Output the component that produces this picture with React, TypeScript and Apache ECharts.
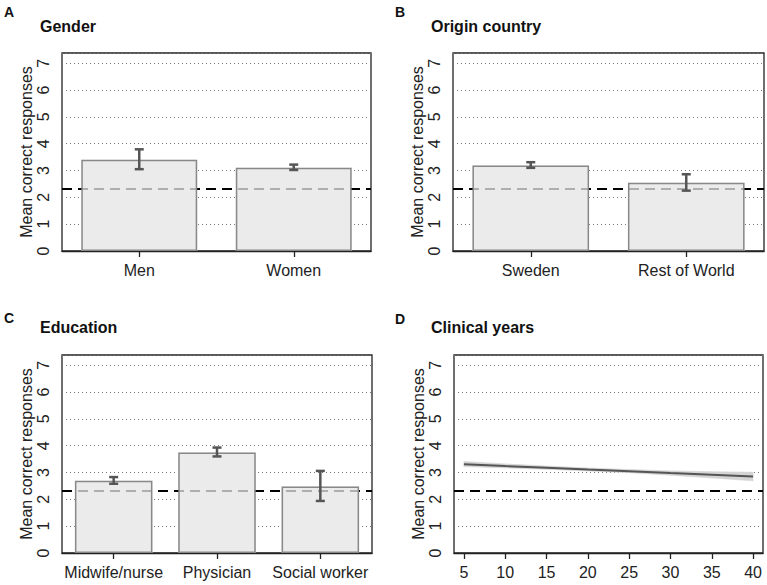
import React, { useEffect, useRef } from "react";
import * as echarts from "echarts";

const chanceLevel = 7 / 3;
const yTicks = [0, 1, 2, 3, 4, 5, 6, 7];

const genderCats = ["Men", "Women"];
const genderMeans = [3.4, 3.1];
const genderLow = [3.05, 3.02];
const genderHigh = [3.79, 3.22];

const originCats = ["Sweden", "Rest of World"];
const originMeans = [3.19, 2.54];
const originLow = [3.1, 2.25];
const originHigh = [3.31, 2.86];

const eduCats = ["Midwife/nurse", "Physician", "Social worker"];
const eduMeans = [2.69, 3.75, 2.48];
const eduLow = [2.58, 3.6, 1.94];
const eduHigh = [2.83, 3.93, 3.06];

const years = [5, 10, 15, 20, 25, 30, 35, 40];
const yearTicks = [5, 10, 15, 20, 25, 30, 35, 40];
const fitValues = [3.31, 3.24, 3.18, 3.11, 3.05, 2.98, 2.92, 2.85];
const ciLower = [3.22, 3.17, 3.12, 3.06, 2.99, 2.9, 2.8, 2.69];
const ciUpper = [3.41, 3.32, 3.24, 3.17, 3.11, 3.06, 3.03, 3.01];

const FONT = "'Liberation Sans', Arial, Helvetica, sans-serif";
const Y_MAX = 7.38;

const panelTitles = [
  { letter: "A", title: "Gender" },
  { letter: "B", title: "Origin country" },
  { letter: "C", title: "Education" },
  { letter: "D", title: "Clinical years" },
];

export default function App() {
  const ref = useRef<HTMLDivElement>(null);

  useEffect(() => {
    if (!ref.current) return;
    const chart = echarts.init(ref.current, null, { renderer: "svg" });

    const grids = [
      { left: 62, top: 53, width: 309, height: 198 },
      { left: 453, top: 53, width: 311, height: 198 },
      { left: 62, top: 355, width: 310, height: 198 },
      { left: 454, top: 355, width: 309, height: 198 },
    ].map((g) => ({
      ...g,
      show: true,
      borderColor: "#222",
      borderWidth: 1.3,
      backgroundColor: "transparent",
    }));

    const yAxes = grids.map((_, i) => ({
      type: "value",
      gridIndex: i,
      min: 0,
      max: Y_MAX,
      interval: 1,
      name: "Mean correct responses",
      nameLocation: "middle",
      nameRotate: 90,
      nameGap: 27,
      nameTextStyle: { fontFamily: FONT, fontSize: 16, color: "#222" },
      axisLine: { show: false },
      axisTick: { show: false },
      axisLabel: {
        customValues: yTicks,
        rotate: 90,
        margin: 11,
        fontFamily: FONT,
        fontSize: 16,
        color: "#222",
      },
      splitLine: {
        show: true,
        lineStyle: { color: "#777", type: [1, 3], width: 1 },
      },
    }));

    const catAxis = (i: number, cats: string[]) => ({
      type: "category",
      gridIndex: i,
      data: cats,
      axisLine: { show: true, lineStyle: { color: "#222", width: 1.3 } },
      axisTick: {
        show: true,
        alignWithLabel: true,
        length: 6,
        lineStyle: { color: "#222", width: 1.3 },
      },
      axisLabel: {
        margin: 11,
        fontFamily: FONT,
        fontSize: 16,
        color: "#222",
        interval: 0,
      },
      splitLine: { show: false },
    });

    const xAxes = [
      catAxis(0, genderCats),
      catAxis(1, originCats),
      catAxis(2, eduCats),
      {
        type: "value",
        gridIndex: 3,
        min: 3.8,
        max: 41.2,
        axisLine: { show: true, lineStyle: { color: "#222", width: 1.3 } },
        axisTick: {
          show: true,
          customValues: yearTicks,
          length: 6,
          lineStyle: { color: "#222", width: 1.3 },
        },
        axisLabel: {
          customValues: yearTicks,
          margin: 11,
          fontFamily: FONT,
          fontSize: 16,
          color: "#222",
        },
        splitLine: { show: false },
      },
    ];

    const chanceLine = (z: number) => ({
      symbol: "none",
      silent: true,
      z,
      label: { show: false },
      lineStyle: { color: "#000", type: [10, 6], width: 1.8 },
      data: [{ yAxis: chanceLevel }],
    });

    const barPanel = (i: number, cats: string[], means: number[], lo: number[], hi: number[]) => [
      {
        type: "bar",
        xAxisIndex: i,
        yAxisIndex: i,
        data: means,
        barWidth: "75%",
        barGap: "-100%",
        z: 2,
        itemStyle: { color: "#ebebeb", borderWidth: 0 },
        silent: true,
      },
      {
        type: "scatter",
        xAxisIndex: i,
        yAxisIndex: i,
        data: [],
        z: 3,
        markLine: chanceLine(3),
      },
      {
        type: "bar",
        xAxisIndex: i,
        yAxisIndex: i,
        data: means,
        barWidth: "75%",
        barGap: "-100%",
        z: 4,
        itemStyle: {
          color: "rgba(235,235,235,0.74)",
          borderColor: "#888",
          borderWidth: 1.5,
        },
        silent: true,
      },
      {
        type: "custom",
        xAxisIndex: i,
        yAxisIndex: i,
        z: 5,
        silent: true,
        data: cats.map((c, k) => [k, lo[k], hi[k]]),
        renderItem: (params: any, api: any) => {
          const x = api.value(0);
          const pLo = api.coord([x, api.value(1)]);
          const pHi = api.coord([x, api.value(2)]);
          const w = 4.5;
          const style = { stroke: "#555", lineWidth: 2.5 };
          return {
            type: "group",
            children: [
              { type: "line", shape: { x1: pLo[0], y1: pLo[1], x2: pHi[0], y2: pHi[1] }, style },
              { type: "line", shape: { x1: pLo[0] - w, y1: pLo[1], x2: pLo[0] + w, y2: pLo[1] }, style },
              { type: "line", shape: { x1: pHi[0] - w, y1: pHi[1], x2: pHi[0] + w, y2: pHi[1] }, style },
            ],
          };
        },
      },
    ];

    const series: any[] = [
      ...barPanel(0, genderCats, genderMeans, genderLow, genderHigh),
      ...barPanel(1, originCats, originMeans, originLow, originHigh),
      ...barPanel(2, eduCats, eduMeans, eduLow, eduHigh),
      {
        type: "custom",
        xAxisIndex: 3,
        yAxisIndex: 3,
        z: 2,
        silent: true,
        data: years.map((x, k) => [x, ciLower[k], ciUpper[k]]),
        renderItem: (params: any, api: any) => {
          const k = params.dataIndex;
          if (k >= years.length - 1) return { type: "group", children: [] };
          const a1 = api.coord([years[k], ciLower[k]]);
          const a2 = api.coord([years[k], ciUpper[k]]);
          const b1 = api.coord([years[k + 1], ciLower[k + 1]]);
          const b2 = api.coord([years[k + 1], ciUpper[k + 1]]);
          return {
            type: "polygon",
            shape: { points: [a1, a2, b2, b1] },
            style: { fill: "#d4d4d4", stroke: "#d4d4d4", lineWidth: 0.6 },
          };
        },
      },
      {
        type: "line",
        xAxisIndex: 3,
        yAxisIndex: 3,
        symbol: "none",
        silent: true,
        lineStyle: { color: "#555", width: 2 },
        data: years.map((x, k) => [x, fitValues[k]]),
        z: 4,
        markLine: chanceLine(4),
      },
    ];

    const titlePos = [
      { lx: 4, ly: 12, tx: 40, ty: 26 },
      { lx: 395, ly: 12, tx: 431, ty: 26 },
      { lx: 4, ly: 318, tx: 40, ty: 327 },
      { lx: 395, ly: 319, tx: 431, ty: 327 },
    ];

    const graphic: any[] = [];
    panelTitles.forEach((p, i) => {
      const pos = titlePos[i];
      graphic.push({
        type: "text",
        x: pos.lx,
        y: pos.ly,
        style: {
          text: p.letter,
          font: `bold 14px ${FONT}`,
          fill: "#111",
          textVerticalAlign: "middle",
        },
      });
      graphic.push({
        type: "text",
        x: pos.tx,
        y: pos.ty,
        style: {
          text: p.title,
          font: `bold 16px ${FONT}`,
          fill: "#111",
          textVerticalAlign: "middle",
        },
      });
    });

    chart.setOption({
      animation: false,
      backgroundColor: "#fff",
      textStyle: { fontFamily: FONT },
      grid: grids,
      xAxis: xAxes,
      yAxis: yAxes,
      series,
      graphic,
    });

    return () => chart.dispose();
  }, []);

  return (
    <div
      ref={ref}
      style={{ position: "fixed", left: 0, top: 0, width: 767, height: 585 }}
    />
  );
}
